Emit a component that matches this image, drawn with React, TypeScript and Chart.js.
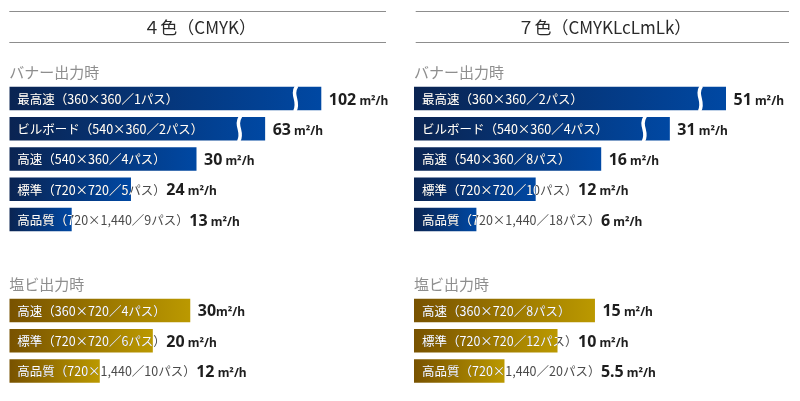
import React, { useEffect, useRef } from "react";
import { Chart, registerables } from "chart.js";

Chart.register(...registerables);

// ---------- data ----------
const panelTitles = ["４色（CMYK）", "７色（CMYKLcLmLk）"];
const sectionTitles = ["バナー出力時", "塩ビ出力時"];
const unit = "m²/h";

const leftBannerLabels = [
  "最高速（360×360／1パス）",
  "ビルボード（540×360／2パス）",
  "高速（540×360／4パス）",
  "標準（720×720／5パス）",
  "高品質（720×1,440／9パス）",
];
const leftBannerValues = [102, 63, 30, 24, 13];

const leftVinylLabels = [
  "高速（360×720／4パス）",
  "標準（720×720／6パス）",
  "高品質（720×1,440／10パス）",
];
const leftVinylValues = [30, 20, 12];
const leftVinylUnitSep = ["", " ", " "];

const rightBannerLabels = [
  "最高速（360×360／2パス）",
  "ビルボード（540×360／4パス）",
  "高速（540×360／8パス）",
  "標準（720×720／10パス）",
  "高品質（720×1,440／18パス）",
];
const rightBannerValues = [51, 31, 16, 12, 6];

const rightVinylLabels = [
  "高速（360×720／8パス）",
  "標準（720×720／12パス）",
  "高品質（720×1,440／20パス）",
];
const rightVinylValues = [15, 10, 5.5];
const rightVinylUnitSep = [" ", " ", " "];

// drawn bar lengths (the reference draws bars by rank, not to scale; % of the longest bar)
const bannerBarLength = [100, 82, 60, 39, 20];
const vinylBarLength = [58, 46, 29];
const bannerBroken = [true, true, false, false, false];

// ---------- styles ----------
const BLUE_L = "#0a2452";
const BLUE_R = "#0048a3";
const GOLD_L = "#785200";
const GOLD_R = "#bb9900";
const JP = "'Noto Sans CJK JP', 'Noto Sans', sans-serif";
const NUM = "'Noto Sans', 'Noto Sans CJK JP', sans-serif";
const X_MAX = 120;
const AREA_W = 312 * (X_MAX / 100);
const GAP_ROWS = 2;

type PanelDef = {
  title: string;
  bannerLabels: string[];
  bannerValues: number[];
  vinylLabels: string[];
  vinylValues: number[];
  vinylSep: string[];
  padLeft: number;
  ruleLeft: number;
  ruleRight: number;
};

const panels: PanelDef[] = [
  {
    title: panelTitles[0],
    bannerLabels: leftBannerLabels,
    bannerValues: leftBannerValues,
    vinylLabels: leftVinylLabels,
    vinylValues: leftVinylValues,
    vinylSep: leftVinylUnitSep,
    padLeft: 9.3,
    ruleLeft: 9.3,
    ruleRight: 386,
  },
  {
    title: panelTitles[1],
    bannerLabels: rightBannerLabels,
    bannerValues: rightBannerValues,
    vinylLabels: rightVinylLabels,
    vinylValues: rightVinylValues,
    vinylSep: rightVinylUnitSep,
    padLeft: 14,
    ruleLeft: 15.7,
    ruleRight: 389,
  },
];

function Panel({ def }: { def: PanelDef }) {
  const ref = useRef<HTMLCanvasElement | null>(null);

  useEffect(() => {
    const canvas = ref.current;
    if (!canvas) return;
    const nB = def.bannerLabels.length;
    const cats = [
      ...def.bannerLabels,
      ...Array(GAP_ROWS).fill(""),
      ...def.vinylLabels,
    ];
    const lengths = [
      ...bannerBarLength,
      ...Array(GAP_ROWS).fill(null),
      ...vinylBarLength,
    ];
    const vinylStart = nB + GAP_ROWS;

    const valueText = (i: number): [string, string] => {
      if (i < nB) return [String(def.bannerValues[i]), " " + unit];
      const k = i - vinylStart;
      return [String(def.vinylValues[k]), def.vinylSep[k] + unit];
    };

    const overlay = {
      id: "overlay",
      afterDatasetsDraw(chart: any) {
        const ctx: CanvasRenderingContext2D = chart.ctx;
        const meta = chart.getDatasetMeta(0);
        ctx.save();
        // header rules and title
        ctx.strokeStyle = "#8d8d8d";
        ctx.lineWidth = 1;
        ctx.beginPath();
        ctx.moveTo(def.ruleLeft, 11.5);
        ctx.lineTo(def.ruleRight, 11.5);
        ctx.moveTo(def.ruleLeft, 42.5);
        ctx.lineTo(def.ruleRight, 42.5);
        ctx.stroke();
        ctx.fillStyle = "#2a2a2a";
        ctx.font = `17px ${JP}`;
        ctx.textAlign = "center";
        ctx.textBaseline = "middle";
        ctx.fillText(def.title, (def.ruleLeft + def.ruleRight) / 2 + 2, 27.5);

        // section titles
        ctx.textAlign = "left";
        ctx.font = `15px ${JP}`;
        ctx.fillStyle = "#8e8e8e";
        const sec = [0, vinylStart];
        sec.forEach((idx, s) => {
          const el = meta.data[idx];
          ctx.fillText(sectionTitles[s], el.base, el.y - el.height / 2 - 14.5);
        });

        // bars: break marks, labels, values
        for (let i = 0; i < cats.length; i++) {
          if (lengths[i] == null) continue;
          const el = meta.data[i];
          const left = el.base;
          const right = el.x;
          const top = el.y - el.height / 2;
          const h = el.height;

          if (i < nB && bannerBroken[i]) {
            const bx = right - 26;
            ctx.strokeStyle = "#ffffff";
            ctx.lineWidth = 3.5;
            ctx.beginPath();
            ctx.moveTo(bx + 1.5, top - 1);
            ctx.bezierCurveTo(bx - 5, top + h * 0.4, bx + 5, top + h * 0.6, bx - 0.5, top + h + 1);
            ctx.stroke();
          }

          ctx.font = `12.5px ${JP}`;
          ctx.textBaseline = "middle";
          ctx.textAlign = "left";
          const lx = left + 8;
          const ly = el.y + 0.5;
          ctx.fillStyle = "#4a4a4a";
          ctx.fillText(cats[i], lx, ly);
          ctx.save();
          ctx.beginPath();
          ctx.rect(left, top, right - left, h);
          ctx.clip();
          ctx.fillStyle = "#ffffff";
          ctx.fillText(cats[i], lx, ly);
          ctx.restore();
          const labelEnd = lx + ctx.measureText(cats[i]).width;

          const [num, un] = valueText(i);
          let vx = Math.max(right + 7.5, labelEnd + 0.5);
          ctx.fillStyle = "#1e1e1e";
          ctx.textBaseline = "alphabetic";
          ctx.font = `bold 16px ${NUM}`;
          ctx.fillText(num, vx, el.y + 6);
          vx += ctx.measureText(num).width;
          ctx.font = `bold 12px ${NUM}`;
          ctx.fillText(un, vx, el.y + 6);
        }
        ctx.restore();
      },
    };

    const chart = new Chart(canvas, {
      type: "bar",
      data: {
        labels: cats,
        datasets: [
          {
            data: lengths,
            barPercentage: 0.776,
            categoryPercentage: 1,
            borderWidth: 0,
            backgroundColor: (c: any) => {
              const ch = c.chart;
              const i = c.dataIndex;
              const v = c.raw;
              const [a, b] = i < nB ? [BLUE_L, BLUE_R] : [GOLD_L, GOLD_R];
              if (v == null || !ch.chartArea || !ch.scales.x) return b;
              const x0 = ch.scales.x.getPixelForValue(0);
              const x1 = ch.scales.x.getPixelForValue(v);
              const g = ch.ctx.createLinearGradient(x0, 0, x1, 0);
              g.addColorStop(0, a);
              g.addColorStop(1, b);
              return g;
            },
          },
        ],
      },
      options: {
        indexAxis: "y",
        responsive: false,
        animation: false,
        layout: {
          padding: {
            left: def.padLeft,
            right: 400 - def.padLeft - AREA_W,
            top: 83.4,
            bottom: 14.9,
          },
        },
        scales: {
          x: { display: false, min: 0, max: X_MAX },
          y: { display: false, offset: true },
        },
        plugins: {
          legend: { display: false },
          tooltip: { enabled: false },
          title: { display: false },
        },
      },
      plugins: [overlay],
    } as any);
    return () => chart.destroy();
  }, [def]);

  return <canvas ref={ref} width={400} height={401} style={{ display: "block" }} />;
}

export default function App() {
  return (
    <div
      style={{
        position: "fixed",
        left: 0,
        top: 0,
        width: 800,
        height: 401,
        background: "#ffffff",
        display: "flex",
      }}
    >
      {panels.map((p, i) => (
        <Panel key={i} def={p} />
      ))}
    </div>
  );
}
